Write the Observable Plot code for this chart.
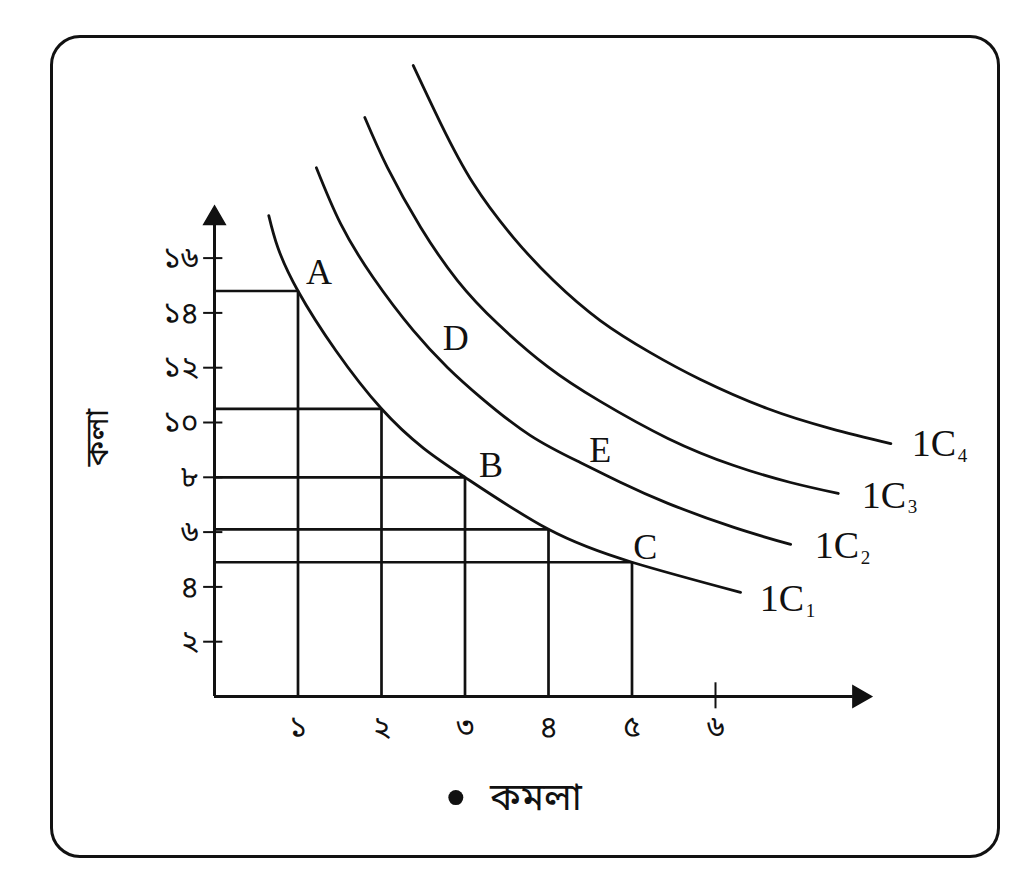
<!DOCTYPE html>
<html>
<head>
<meta charset="utf-8">
<script src="https://cdn.jsdelivr.net/npm/d3@7"></script>
<script src="https://cdn.jsdelivr.net/npm/@observablehq/plot@0.6"></script>
<style>
  html, body { margin: 0; padding: 0; background: #fff; }
  #wrap { position: relative; width: 1024px; height: 881px; overflow: hidden; }
  #frame { position: absolute; left: 50px; top: 35px; width: 944px; height: 817px;
           border: 3px solid #111; border-radius: 30px; }
  #chart { position: absolute; left: 0; top: 0; }
</style>
</head>
<body>
<div id="wrap"><div id="frame"></div><div id="chart"></div></div>
<script>
// ---- data ----
const xTicks = [1, 2, 3, 4, 5, 6];
const yTicks = [2, 4, 6, 8, 10, 12, 14, 16];
const xTickMarks = [6];
// combinations on IC1 (কমলা, কলা)
const kamla = [1, 2, 3, 4, 5];
const kola  = [14.8, 10.5, 8, 6.1, 4.9];

const ic1x = [0.65, 1, 2, 3, 4, 5, 6.3];
const ic1y = [17.55, 14.8, 10.5, 8, 6.1, 4.9, 3.8];
const ic2x = [1.22, 1.51, 1.90, 2.38, 2.79, 3.19, 3.78, 4.38, 4.86, 5.43, 6.22, 6.90];
const ic2y = [19.3, 17.26, 15.29, 13.36, 12.01, 10.91, 9.53, 8.54, 7.82, 7.05, 6.17, 5.55];
const ic3x = [1.80, 2.07, 2.47, 2.91, 3.39, 3.99, 4.62, 5.43, 6.22, 6.90, 7.47];
const ic3y = [21.13, 19.31, 17.12, 15.18, 13.61, 12.04, 10.77, 9.42, 8.43, 7.81, 7.41];
const ic4x = [2.38, 2.71, 3.10, 3.58, 4.06, 4.62, 5.22, 5.82, 6.62, 7.38, 8.10];
const ic4y = [23.03, 20.91, 18.72, 16.75, 15.18, 13.72, 12.55, 11.57, 10.51, 9.78, 9.23];

const curveNames = ["1C", "1C", "1C", "1C"];
const curveSubs = ["1", "2", "3", "4"];
const curveLabelX = [6.53, 7.19, 7.75, 8.35];
const curveLabelY = [3.58, 5.51, 7.34, 9.23];

const letterNames = ["A", "B", "C", "D", "E"];
const letterX = [1.25, 3.31, 5.16, 2.89, 4.62];
const letterY = [15.47, 8.43, 5.44, 13.07, 8.98];

const xTitle = "কমলা";
const yTitle = "কলা";

// ---- build tables ----
const bn = d => String(d).replace(/\d/g, c => "০১২৩৪৫৬৭৮৯"[+c]);
const curves = [];
[[ic1x, ic1y], [ic2x, ic2y], [ic3x, ic3y], [ic4x, ic4y]].forEach(([xs, ys], i) =>
  xs.forEach((x, j) => curves.push({curve: i, x, y: ys[j]})));
const grid = kamla.map((x, i) => ({x, y: kola[i]}));
const letters = letterNames.map((t, i) => ({t, x: letterX[i], y: letterY[i]}));
const icLabels = curveNames.map((t, i) => ({t, s: curveSubs[i], x: curveLabelX[i], y: curveLabelY[i]}));

const serif = "'Liberation Serif', 'DejaVu Serif', serif";
const beng = "'Noto Sans Bengali', 'Noto Serif Bengali', 'Lohit Bengali', 'FreeSerif', 'Noto Sans', sans-serif";
const ink = "#111";

const chart = Plot.plot({
  width: 1024,
  height: 881,
  style: {background: "transparent", color: ink},
  x: {domain: [0, 8], range: [214, 214 + 8 * 83.5], axis: null},
  y: {domain: [0, 18], range: [696, 696 - 18 * 27.4], axis: null},
  marks: [
    // grid lines to the combination points
    Plot.ruleY(grid, {y: "y", x1: 0, x2: "x", stroke: ink, strokeWidth: 2.7}),
    Plot.ruleX(grid, {x: "x", y1: 0, y2: "y", stroke: ink, strokeWidth: 2.7}),
    // axes lines with arrowheads
    Plot.ruleX([0], {y1: 0, y2: 17.3, stroke: ink, strokeWidth: 3}),
    Plot.ruleY([0], {x1: 0, x2: 7.65, stroke: ink, strokeWidth: 3}),
    Plot.dot([{x: 0, y: 17.45}], {x: "x", y: "y", symbol: "triangle", r: 8, fill: ink, stroke: ink}),
    Plot.dot([{x: 7.72, y: 0}], {x: "x", y: "y", symbol: "triangle", r: 8, fill: ink, stroke: ink, rotate: 90}),
    // y axis ticks (crossing the axis) and labels
    Plot.ruleY(yTicks, {y: d => d, x1: -0.13, x2: 0.1, stroke: ink, strokeWidth: 2}),
    Plot.text(yTicks, {x: 0, y: d => d, text: bn, dx: -16, textAnchor: "end", fontSize: 30, fontFamily: beng, fill: ink}),
    // x axis labels and the single tick at 6
    Plot.text(xTicks, {x: d => d, y: 0, text: bn, dy: 31, fontSize: 30, fontFamily: beng, fill: ink}),
    Plot.ruleX(xTickMarks, {x: d => d, y1: -0.45, y2: 0.5, stroke: ink, strokeWidth: 2}),
    // indifference curves
    Plot.line(curves, {x: "x", y: "y", z: "curve", curve: "natural", stroke: ink, strokeWidth: 2.8}),
    // point letters
    Plot.text(letters, {x: "x", y: "y", text: "t", fontSize: 36, fontFamily: serif, fill: ink}),
    // curve labels
    Plot.text(icLabels, {x: "x", y: "y", text: "t", textAnchor: "start", fontSize: 38, fontFamily: serif, fill: ink}),
    Plot.text(icLabels, {x: "x", y: "y", text: "s", textAnchor: "start", dx: 46, dy: 12, fontSize: 19, fontFamily: serif, fill: ink}),
    // axis titles
    Plot.text([yTitle], {x: -1.4, y: 9.45, text: d => d, rotate: -90, fontSize: 32, fontFamily: beng, fill: ink}),
    Plot.dot([xTitle], {x: 2.89, y: -3.69, r: 7.5, fill: ink}),
    Plot.text([xTitle], {x: 3.3, y: -3.69, text: d => d, textAnchor: "start", fontSize: 38, fontFamily: beng, fill: ink})
  ]
});
document.getElementById("chart").appendChild(chart);
</script>
</body>
</html>
